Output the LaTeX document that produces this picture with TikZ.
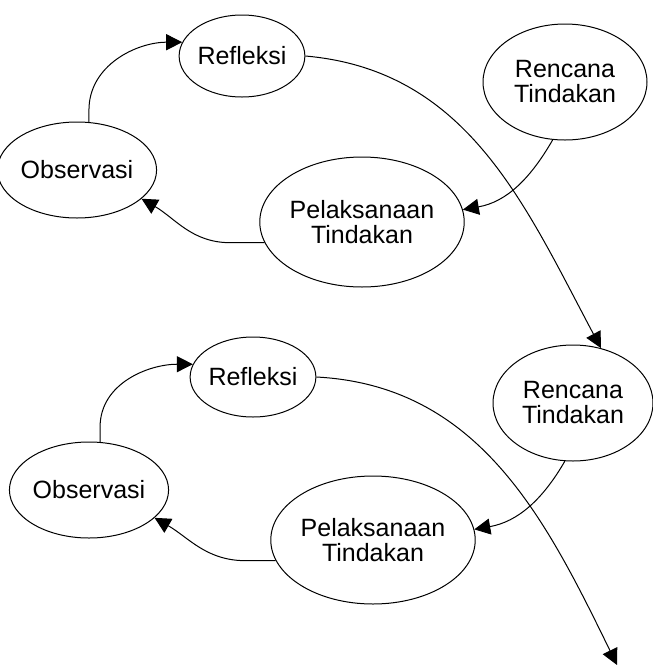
\documentclass[tikz,border=0pt]{standalone}
\usepackage{fontspec}
\setmainfont{Liberation Sans}
\usepackage{tikz}
\usetikzlibrary{shapes.geometric,arrows.meta}
\tikzset{
Bulle/.style={
 ellipse,
 draw=black,
 line width=0.5pt,
 inner sep=0pt,
 align=center,
 font=\fontsize{12.5}{12.5}\selectfont
 },
Fleche/.style={
 draw=black,
 line width=0.5pt,
 -{Triangle[length=8pt,width=8pt]}
 }
}

\begin{document}
\begin{tikzpicture}[x=0.5pt,y=0.5pt]
\useasboundingbox (0,0) rectangle (653,-670);
\node[Bulle,minimum width=57pt,minimum height=41pt] (RefleksiA) at (242,-56) {Refleksi};
\node[Bulle,minimum width=82pt,minimum height=58pt] (RencanaA) at (565,-82) {Rencana\\Tindakan};
\node[Bulle,minimum width=66pt,minimum height=48pt] (ObservasiA) at (77,-170) {Observasi};
\node[Bulle,minimum width=90pt,minimum height=65pt] (PelaksanaanA) at (362,-222) {Pelaksanaan\\Tindakan};
\node[Bulle,minimum width=55pt,minimum height=40pt] (RefleksiB) at (253,-377) {Refleksi};
\node[Bulle,minimum width=80pt,minimum height=58pt] (RencanaB) at (573,-403) {Rencana\\Tindakan};
\node[Bulle,minimum width=67pt,minimum height=48pt] (ObservasiB) at (89,-490) {Observasi};
\node[Bulle,minimum width=90pt,minimum height=64pt] (PelaksanaanB) at (373,-540) {Pelaksanaan\\Tindakan};
\coordinate (Fin) at (617,-665);
\draw[Fleche] (ObservasiA.76) -- ++(0,12) to[out=90,in=180] (RefleksiA.167);
\draw[Fleche] (RencanaA.258) to[out=240,in=10] (PelaksanaanA.7);
\draw[Fleche] (PelaksanaanA.192) -- ++(-34,0) to[out=180,in=-30] (ObservasiA.336);
\draw[Fleche] (RefleksiA.east) to[out=-5,in=118] (RencanaB.63);
\draw[Fleche] (ObservasiB.77) -- ++(0,15) to[out=90,in=180] (RefleksiB.168);
\draw[Fleche] (RencanaB.262) to[out=240,in=10] (PelaksanaanB.6);
\draw[Fleche] (PelaksanaanB.192) -- ++(-30,0) to[out=180,in=-30] (ObservasiB.337);
\draw[Fleche] (RefleksiB.east) to[out=-3,in=116] (Fin);
\end{tikzpicture}
\end{document}
